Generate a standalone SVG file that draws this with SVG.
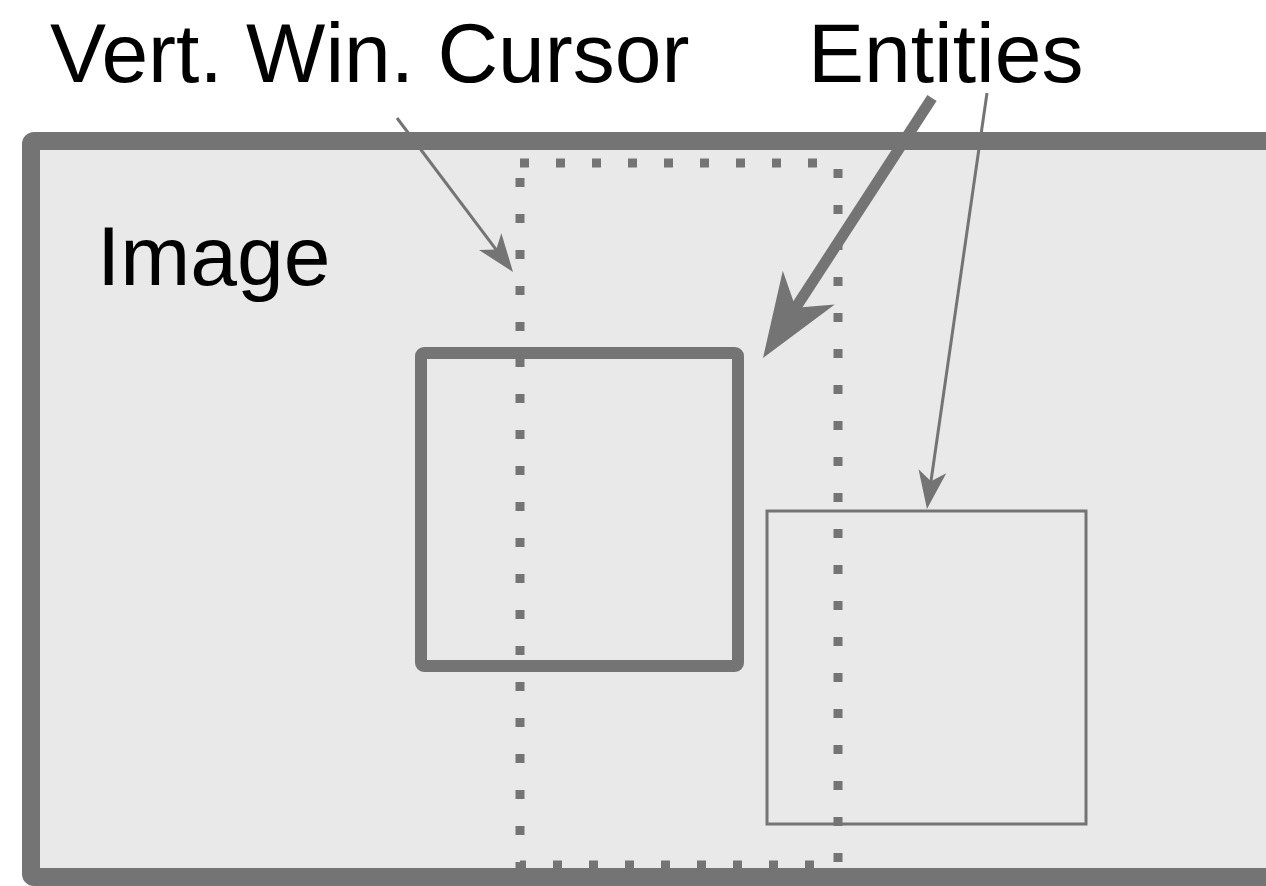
<svg xmlns="http://www.w3.org/2000/svg" width="1266" height="886" viewBox="0 0 1266 886">
<defs>
<style>
.lbl{font-family:"Liberation Sans",Arial,sans-serif;font-size:84px;fill:#000}
.ln{stroke:#747474;fill:none}
</style>
<marker id="ahThin" markerUnits="userSpaceOnUse" viewBox="-20 -20 50 40" refX="0" refY="0" markerWidth="50" markerHeight="40" orient="auto">
<path d="M24,0 L-14,-14 L-4,0 L-14,14 Z" fill="#747474"/>
</marker>
<marker id="ahThick" markerUnits="userSpaceOnUse" viewBox="-40 -40 100 80" refX="0" refY="0" markerWidth="100" markerHeight="80" orient="auto">
<path d="M50,0 L-34,-31 L-10,0 L-34,31 Z" fill="#747474"/>
</marker>
</defs>
<rect width="1266" height="886" fill="#fff"/>
<g id="image">
<rect x="31" y="141" width="1300" height="736" rx="3" fill="#e9e9e9"/>
<text class="lbl" x="97" y="285">Image</text>
</g>
<g id="entity1">
<rect class="ln" x="421" y="353" width="317" height="313" rx="3" stroke-width="12" stroke-linejoin="round"/>
</g>
<g id="entity2">
<rect class="ln" x="767" y="511" width="319" height="313" stroke-width="3"/>
</g>
<g id="cursor">
<rect class="ln" x="520" y="163" width="318" height="702" stroke-width="9" stroke-dasharray="9 27"/>
</g>
<g id="image-frame">
<rect class="ln" x="31" y="141" width="1300" height="736" rx="3" stroke-width="18" stroke-linejoin="round"/>
</g>
<g id="labels">
<text class="lbl" x="50" y="82">Vert. Win. Cursor</text>
<text class="lbl" x="808" y="82">Entities</text>
</g>
<g id="connectors">
<line class="ln" x1="397" y1="118" x2="498.6" y2="252.8" stroke-width="3" marker-end="url(#ahThin)"/>
<line class="ln" x1="932" y1="98" x2="790.25" y2="316.1" stroke-width="11" marker-end="url(#ahThick)"/>
<line class="ln" x1="987" y1="93" x2="930.4" y2="485.2" stroke-width="3" marker-end="url(#ahThin)"/>
</g>
</svg>
